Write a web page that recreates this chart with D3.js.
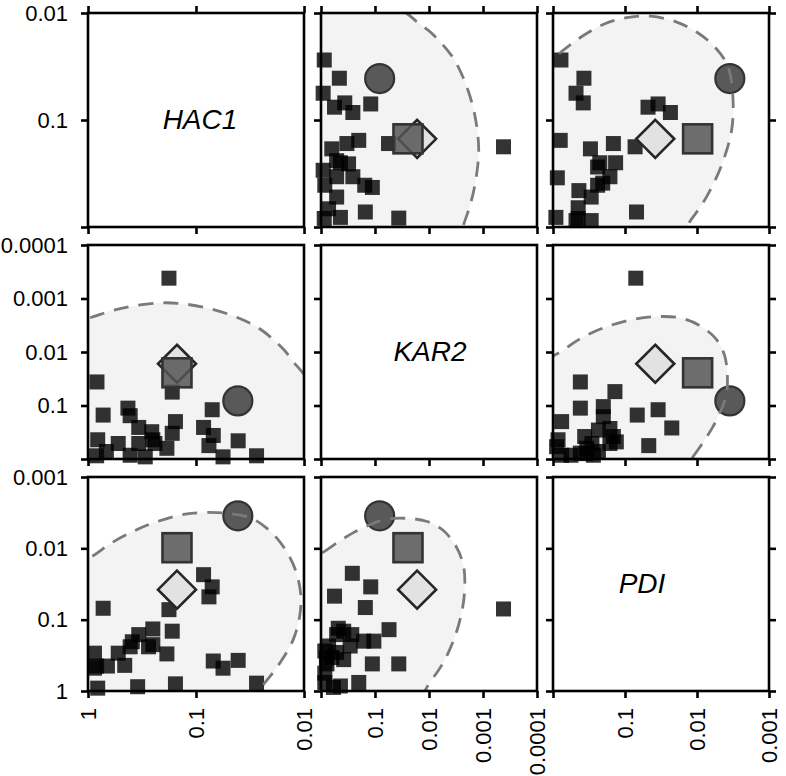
<!DOCTYPE html>
<html><head><meta charset="utf-8">
<script src="https://cdn.jsdelivr.net/npm/d3@7"></script>
<style>
body{margin:0;background:#fff}
svg{display:block}
text{font-family:"Liberation Sans",Arial,Helvetica,sans-serif}
</style>
</head><body>
<svg id="chart" width="786" height="776"></svg>
<script>
// ---- variables and tick labels ----
const genes = ["HAC1", "KAR2", "PDI"];
const hac1TickLabels = ["1", "0.1", "0.01"];
const kar2TickLabels = ["1", "0.1", "0.01", "0.001", "0.0001"];
const pdiTickLabels = ["1", "0.1", "0.01", "0.001"];

// ---- pair HAC1 / KAR2 (p-values) ----
const hkHAC1 = [0.178, 0.826, 0.166, 0.724, 0.427, 0.407, 0.339, 0.257, 0.155, 0.166, 0.0851, 0.0692, 0.0708, 0.0759, 0.0407, 0.0562, 0.0275, 0.813, 0.525, 0.676, 0.832, 0.339, 0.251, 0.240, 0.186, 0.407, 0.295];
const hkKAR2 = [0.000417, 0.0363, 0.0562, 0.151, 0.112, 0.155, 0.257, 0.309, 0.200, 0.331, 0.257, 0.363, 0.120, 0.562, 0.457, 0.912, 0.871, 0.437, 0.513, 0.724, 0.871, 0.513, 0.437, 0.513, 0.631, 0.851, 0.912];

// ---- pair HAC1 / PDI ----
const hpHAC1 = [0.724, 0.178, 0.0851, 0.0708, 0.0759, 0.251, 0.166, 0.339, 0.389, 0.407, 0.275, 0.251, 0.525, 0.186, 0.871, 0.457, 0.832, 0.661, 0.871, 0.0692, 0.0562, 0.0407, 0.0275, 0.813, 0.347, 0.155];
const hpPDI = [0.0692, 0.0724, 0.0234, 0.0347, 0.0479, 0.135, 0.145, 0.162, 0.204, 0.240, 0.240, 0.224, 0.295, 0.302, 0.295, 0.437, 0.447, 0.447, 0.479, 0.380, 0.479, 0.372, 0.776, 0.912, 0.871, 0.794];

// ---- pair KAR2 / PDI ----
const kpKAR2 = [0.000417, 0.0363, 0.0550, 0.112, 0.105, 0.162, 0.151, 0.120, 0.263, 0.562, 0.200, 0.380, 0.288, 0.269, 0.380, 0.479, 0.513, 0.513, 0.631, 0.724, 0.776, 0.437, 0.589, 0.851, 0.851, 0.851, 0.794];
const kpPDI = [0.0708, 0.417, 0.138, 0.417, 0.200, 0.200, 0.0676, 0.0347, 0.0224, 0.0468, 0.759, 0.363, 0.234, 0.162, 0.145, 0.132, 0.162, 0.288, 0.339, 0.234, 0.417, 0.851, 0.891, 0.759, 0.275, 0.562, 0.347];

// ---- highlighted markers ----
const markerShapes = ["diamond", "square", "circle"];
const markerHAC1 = [0.15, 0.15, 0.041];
const markerKAR2 = [0.0166, 0.0245, 0.082];
const markerPDI = [0.038, 0.0098, 0.0035];

// ---- shaded regions, in -log10(p) of the pair's two genes ----
const hkRegion = [[-0.4,2.4],[0.02,2.64],[0.2,2.76],[0.42,2.86],[0.7,2.92],[0.92,2.89],[1.15,2.8],[1.4,2.63],[1.6,2.42],[1.81,2.05],[1.9,1.82],[2.0,1.58],[2.12,1.2],[2.25,0.6],[2.3,-0.3],[1.0,-0.5],[-0.4,-0.4],[-0.5,1.0]];
const hpRegion = [[-0.4,1.55],[0.04,1.89],[0.2,2.06],[0.42,2.24],[0.63,2.37],[0.9,2.48],[1.2,2.5],[1.5,2.43],[1.68,2.25],[1.82,2.0],[1.92,1.7],[1.97,1.35],[1.96,1.05],[1.9,0.72],[1.78,0.4],[1.64,0.12],[1.45,-0.2],[1.0,-0.5],[-0.4,-0.4],[-0.5,0.6]];
const kpRegion = [[-0.4,1.75],[0.05,1.95],[0.3,2.08],[0.6,2.22],[0.9,2.33],[1.22,2.41],[1.6,2.42],[1.95,2.38],[2.25,2.26],[2.5,2.03],[2.64,1.75],[2.66,1.42],[2.6,1.08],[2.45,0.7],[2.25,0.38],[2.0,0.1],[1.7,-0.25],[1.0,-0.5],[-0.4,-0.4],[-0.5,0.7]];

// ---- assembly ----
const tickLabels = [hac1TickLabels, kar2TickLabels, pdiTickLabels];
const markerVals = [markerHAC1, markerKAR2, markerPDI];
const pairs = [
  {vars: [0, 1], vals: [hkHAC1, hkKAR2], region: hkRegion},
  {vars: [0, 2], vals: [hpHAC1, hpPDI], region: hpRegion},
  {vars: [1, 2], vals: [kpKAR2, kpPDI], region: kpRegion}
];

const colX = [88, 321, 553], rowY = [13, 245, 477], W = 216, H = 214;
const diagLabelX = [200, 430, 642];

function xScale(c) {
  const t = tickLabels[c];
  return d3.scaleLog().domain([1, +t[t.length - 1]]).range([colX[c], colX[c] + W]);
}
function yScale(r) {
  const t = tickLabels[r];
  return d3.scaleLog().domain([1, +t[t.length - 1]]).range([rowY[r] + H, rowY[r]]);
}

const svg = d3.select("#chart");
const defs = svg.append("defs");
const TICK = 7;

for (let r = 0; r < 3; r++) {
  for (let c = 0; c < 3; c++) {
    const x = xScale(c), y = yScale(r);
    const g = svg.append("g");
    if (r === c) {
      g.append("text")
        .attr("x", diagLabelX[c])
        .attr("y", rowY[r] + H / 2 + 9)
        .attr("text-anchor", "middle")
        .attr("font-size", 28)
        .attr("font-style", "italic")
        .attr("fill", "#000")
        .text(genes[c]);
    } else {
      const P = pairs.find(p => p.vars.includes(r) && p.vars.includes(c));
      const ix = P.vars.indexOf(c), iy = P.vars.indexOf(r);
      const clipId = `clip-${r}-${c}`;
      defs.append("clipPath").attr("id", clipId)
        .append("rect").attr("x", colX[c]).attr("y", rowY[r]).attr("width", W).attr("height", H);
      const line = d3.line()
        .x(d => x(Math.pow(10, -d[ix])))
        .y(d => y(Math.pow(10, -d[iy])))
        .curve(d3.curveCatmullRomClosed.alpha(0.5));
      const regionD = line(P.region);
      g.append("path").attr("d", regionD).attr("fill", "#f3f3f3").attr("clip-path", `url(#${clipId})`);

      const n = P.vals[0].length;
      const S = 15;
      g.append("g").selectAll("rect").data(d3.range(n)).join("rect")
        .attr("x", i => x(P.vals[ix][i]) - S / 2)
        .attr("y", i => y(P.vals[iy][i]) - S / 2)
        .attr("width", S).attr("height", S)
        .attr("fill", "#000").attr("fill-opacity", 0.8);

      markerShapes.forEach((shape, k) => {
        const cx = x(markerVals[c][k]), cy = y(markerVals[r][k]);
        if (shape === "diamond") {
          const R = 19;
          g.append("path")
            .attr("d", `M${cx},${cy - R}L${cx + R},${cy}L${cx},${cy + R}L${cx - R},${cy}Z`)
            .attr("fill", "#e2e2e2").attr("stroke", "#262626").attr("stroke-width", 2.6);
        } else if (shape === "square") {
          const s = 29;
          g.append("rect").attr("x", cx - s / 2).attr("y", cy - s / 2).attr("width", s).attr("height", s)
            .attr("fill", "#555").attr("fill-opacity", 0.85)
            .attr("stroke", "#333").attr("stroke-width", 2.6);
        } else {
          g.append("circle").attr("cx", cx).attr("cy", cy).attr("r", 14.5)
            .attr("fill", "#595959").attr("stroke", "#333").attr("stroke-width", 2.2);
        }
      });

      g.append("path").attr("d", regionD).attr("fill", "none")
        .attr("stroke", "#7a7a7a").attr("stroke-width", 2.8)
        .attr("stroke-dasharray", "15,10")
        .attr("clip-path", `url(#${clipId})`);
    }

    // border
    g.append("rect").attr("x", colX[c]).attr("y", rowY[r]).attr("width", W).attr("height", H)
      .attr("fill", "none").attr("stroke", "#000").attr("stroke-width", 2.6);

    const xt = tickLabels[c], yt = tickLabels[r];
    // left ticks (labels in first column; the "1" is omitted where it would meet the next row)
    const aL = g.append("g").attr("transform", `translate(${colX[c]},0)`)
      .call(d3.axisLeft(y).tickValues(yt.map(Number)).tickSize(TICK).tickPadding(13)
        .tickFormat((d, i) => (c === 0 && (r === 2 || i > 0)) ? yt[i] : ""));
    // bottom ticks (labels in last row)
    const aB = g.append("g").attr("transform", `translate(0,${rowY[r] + H})`)
      .call(d3.axisBottom(x).tickValues(xt.map(Number)).tickSize(TICK)
        .tickFormat((d, i) => (r === 2 && (c === 0 || i > 0)) ? xt[i] : ""));
    aB.selectAll("text")
      .attr("transform", "rotate(-90)")
      .attr("x", -17).attr("y", 0).attr("dy", "0.35em")
      .attr("text-anchor", "end");
    const axes = [aL, aB];
    if (r === 0) {
      axes.push(g.append("g").attr("transform", `translate(0,${rowY[r]})`)
        .call(d3.axisTop(x).tickValues(xt.map(Number)).tickSize(TICK).tickFormat("")));
    }
    if (c === 2) {
      axes.push(g.append("g").attr("transform", `translate(${colX[c] + W},0)`)
        .call(d3.axisRight(y).tickValues(yt.map(Number)).tickSize(TICK).tickFormat("")));
    }
    axes.forEach(a => {
      a.select(".domain").remove();
      a.selectAll("line").attr("stroke", "#000").attr("stroke-width", 2.6);
      a.selectAll("text").attr("font-size", 22).attr("fill", "#000")
        .attr("font-family", "'Liberation Sans',Arial,Helvetica,sans-serif");
    });
  }
}
</script>
</body></html>
